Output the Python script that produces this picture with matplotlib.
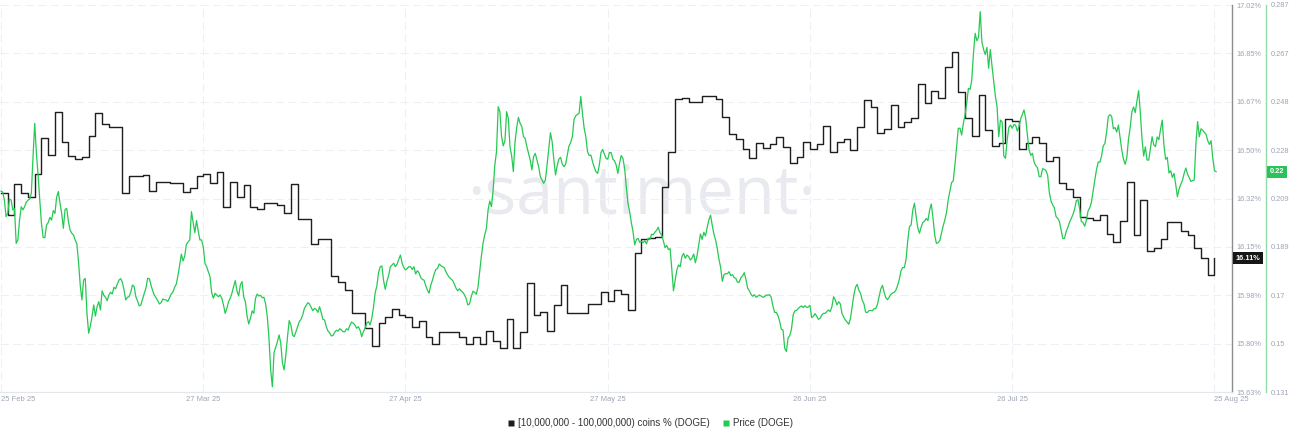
import numpy as np
import matplotlib
matplotlib.use("Agg")
import matplotlib.pyplot as plt
import matplotlib.transforms as mtransforms
from matplotlib.lines import Line2D

# ---------------- data ----------------
start_date = "2025-02-25"          # day 0
xtick_days = [0, 30, 60, 90, 120, 150, 180]
xtick_labels = ["25 Feb 25", "27 Mar 25", "27 Apr 25", "27 May 25",
                "26 Jun 25", "26 Jul 25", "25 Aug 25"]

holder_tick_labels = ["15.63%", "15.80%", "15.98%", "16.15%", "16.32%",
                      "16.50%", "16.67%", "16.85%", "17.02%"]
holder_range = [15.63, 17.02]
price_tick_labels = ["0.131", "0.15", "0.17", "0.189", "0.209",
                     "0.228", "0.248", "0.267", "0.287"]
price_range = [0.131, 0.287]

# daily share of supply held by [10M - 100M) DOGE wallets, %
holders_pct = [
    16.345, 16.266, 16.377, 16.345, 16.330, 16.413, 16.542, 16.481, 16.636, 16.528,
    16.478, 16.467, 16.474, 16.550, 16.632, 16.593, 16.582, 16.582, 16.345, 16.406,
    16.406, 16.409, 16.352, 16.384, 16.384, 16.381, 16.381, 16.348, 16.363, 16.406,
    16.413, 16.381, 16.420, 16.295, 16.384, 16.330, 16.374, 16.295, 16.287, 16.309,
    16.309, 16.302, 16.273, 16.377, 16.251, 16.251, 16.162, 16.180, 16.180, 16.047,
    16.025, 15.996, 15.914, 15.914, 15.860, 15.795, 15.878, 15.899, 15.928, 15.907,
    15.899, 15.864, 15.885, 15.828, 15.802, 15.846, 15.846, 15.846, 15.828, 15.802,
    15.828, 15.802, 15.849, 15.813, 15.788, 15.892, 15.788, 15.846, 16.022, 15.907,
    15.917, 15.849, 15.943, 16.014, 15.914, 15.914, 15.914, 15.946, 15.946, 15.989,
    15.957, 15.996, 15.982, 15.925, 16.129, 16.180, 16.183, 16.187, 16.366, 16.492,
    16.682, 16.686, 16.672, 16.672, 16.693, 16.693, 16.682, 16.618, 16.557, 16.539,
    16.503, 16.471, 16.524, 16.506, 16.521, 16.546, 16.510, 16.453, 16.474, 16.528,
    16.503, 16.521, 16.585, 16.492, 16.528, 16.539, 16.499, 16.582, 16.679, 16.654,
    16.560, 16.575, 16.661, 16.582, 16.600, 16.614, 16.736, 16.668, 16.711, 16.686,
    16.797, 16.851, 16.708, 16.614, 16.550, 16.697, 16.571, 16.514, 16.524, 16.611,
    16.603, 16.503, 16.524, 16.546, 16.524, 16.460, 16.474, 16.381, 16.359, 16.330,
    16.259, 16.255, 16.248, 16.266, 16.198, 16.169, 16.244, 16.384, 16.194, 16.320,
    16.137, 16.147, 16.180, 16.241, 16.241, 16.208, 16.194, 16.147, 16.111, 16.050,
    16.111,
]

# DOGE price, USD, every 6 hours
price = [
    0.2120, 0.2116, 0.2084, 0.2017, 0.2030, 0.2088, 0.2084, 0.2044, 0.2050, 0.1909,
    0.1923, 0.2003, 0.2057, 0.2044, 0.2057, 0.2075, 0.2083, 0.2088, 0.2111, 0.2259,
    0.2393, 0.2272, 0.2185, 0.2084, 0.1990, 0.1933, 0.1932, 0.1983, 0.1993, 0.2014,
    0.2003, 0.2041, 0.2030, 0.2095, 0.2118, 0.2071, 0.2030, 0.1970, 0.2046, 0.2050,
    0.1997, 0.1963, 0.1950, 0.1943, 0.1923, 0.1907, 0.1835, 0.1741, 0.1681, 0.1761,
    0.1768, 0.1627, 0.1547, 0.1576, 0.1614, 0.1661, 0.1616, 0.1654, 0.1674, 0.1641,
    0.1718, 0.1700, 0.1692, 0.1678, 0.1701, 0.1712, 0.1705, 0.1732, 0.1726, 0.1745,
    0.1761, 0.1767, 0.1752, 0.1721, 0.1681, 0.1692, 0.1694, 0.1713, 0.1741, 0.1735,
    0.1694, 0.1677, 0.1657, 0.1661, 0.1685, 0.1708, 0.1729, 0.1768, 0.1767, 0.1741,
    0.1718, 0.1700, 0.1690, 0.1678, 0.1665, 0.1670, 0.1685, 0.1682, 0.1681, 0.1675,
    0.1690, 0.1705, 0.1713, 0.1732, 0.1745, 0.1780, 0.1821, 0.1866, 0.1838, 0.1858,
    0.1905, 0.1915, 0.1923, 0.2037, 0.1993, 0.1952, 0.2001, 0.1960, 0.1923,
    0.1923, 0.1896, 0.1829, 0.1815, 0.1795, 0.1775, 0.1710, 0.1688, 0.1708, 0.1701,
    0.1694, 0.1701, 0.1688, 0.1661, 0.1627, 0.1647, 0.1674, 0.1688, 0.1708, 0.1735,
    0.1759, 0.1718, 0.1697, 0.1741, 0.1755, 0.1694, 0.1674, 0.1616, 0.1584, 0.1607,
    0.1637, 0.1627, 0.1688, 0.1705, 0.1697, 0.1700, 0.1690, 0.1692, 0.1665, 0.1614,
    0.1526, 0.1399, 0.1331, 0.1469, 0.1490, 0.1513, 0.1540, 0.1506, 0.1426, 0.1399,
    0.1459, 0.1533, 0.1598, 0.1580, 0.1540, 0.1533, 0.1553, 0.1573, 0.1594, 0.1603,
    0.1620, 0.1647, 0.1658, 0.1670, 0.1665, 0.1651, 0.1638, 0.1647, 0.1643, 0.1631,
    0.1654, 0.1630, 0.1603, 0.1600, 0.1573, 0.1556, 0.1548, 0.1536, 0.1538, 0.1551,
    0.1559, 0.1555, 0.1565, 0.1560, 0.1553, 0.1553, 0.1565, 0.1560, 0.1579, 0.1592,
    0.1587, 0.1580, 0.1567, 0.1573, 0.1560, 0.1533, 0.1553, 0.1567, 0.1587, 0.1594,
    0.1580, 0.1607, 0.1651, 0.1710, 0.1737, 0.1791, 0.1815, 0.1818, 0.1759, 0.1724,
    0.1757, 0.1779, 0.1815, 0.1822, 0.1829, 0.1815, 0.1825, 0.1845, 0.1862, 0.1829,
    0.1812, 0.1802, 0.1808, 0.1815,
    0.1815, 0.1804, 0.1815, 0.1786, 0.1799, 0.1791, 0.1772, 0.1764, 0.1761, 0.1739,
    0.1721, 0.1708, 0.1741, 0.1761, 0.1786, 0.1804, 0.1808, 0.1826, 0.1819, 0.1815,
    0.1811, 0.1795, 0.1782, 0.1772, 0.1766, 0.1759, 0.1745, 0.1728, 0.1718, 0.1726,
    0.1718, 0.1712, 0.1702, 0.1686, 0.1661, 0.1665, 0.1694, 0.1716, 0.1712, 0.1704,
    0.1732, 0.1795, 0.1856, 0.1909, 0.1943, 0.1970, 0.2044, 0.2080, 0.2057, 0.2124,
    0.2225, 0.2279, 0.2460, 0.2440, 0.2339, 0.2302, 0.2323, 0.2440, 0.2413, 0.2299,
    0.2261, 0.2198, 0.2319, 0.2377, 0.2417, 0.2393, 0.2380, 0.2339, 0.2332, 0.2299,
    0.2272, 0.2245, 0.2205, 0.2259, 0.2272, 0.2245, 0.2218, 0.2178, 0.2165, 0.2151,
    0.2165, 0.2225, 0.2292, 0.2355, 0.2319, 0.2248, 0.2185, 0.2222, 0.2248, 0.2256,
    0.2229, 0.2218, 0.2228, 0.2265, 0.2302, 0.2315, 0.2339, 0.2409, 0.2423, 0.2429,
    0.2433, 0.2501, 0.2433, 0.2373, 0.2339, 0.2279, 0.2263, 0.2265, 0.2238, 0.2216,
    0.2198, 0.2191, 0.2225, 0.2275, 0.2288, 0.2269, 0.2252, 0.2248, 0.2275,
    0.2275, 0.2249, 0.2242, 0.2225, 0.2191, 0.2232, 0.2263, 0.2252, 0.2212, 0.2138,
    0.2071, 0.2037, 0.1993, 0.1956, 0.1903, 0.1925, 0.1929, 0.1913, 0.1917, 0.1912,
    0.1920, 0.1907, 0.1929, 0.1925, 0.1946, 0.1944, 0.1954, 0.1962, 0.1974, 0.1952,
    0.1943, 0.1919, 0.1892, 0.1901, 0.1884, 0.1888, 0.1806, 0.1718, 0.1760, 0.1802,
    0.1822, 0.1815, 0.1856, 0.1869, 0.1849, 0.1862, 0.1856, 0.1842, 0.1850, 0.1866,
    0.1831, 0.1860, 0.1903, 0.1947, 0.1925, 0.1954, 0.1939, 0.1974, 0.2003, 0.2023,
    0.1982, 0.1946, 0.1923, 0.1888, 0.1845, 0.1812, 0.1756, 0.1784, 0.1787, 0.1787,
    0.1795, 0.1779, 0.1783, 0.1771, 0.1768, 0.1752, 0.1753, 0.1771, 0.1778, 0.1791,
    0.1764, 0.1729, 0.1718, 0.1704, 0.1696, 0.1702, 0.1692, 0.1696, 0.1701, 0.1697,
    0.1692, 0.1694, 0.1701, 0.1700, 0.1702, 0.1692, 0.1657, 0.1631, 0.1631, 0.1618,
    0.1595, 0.1563, 0.1560, 0.1486, 0.1473, 0.1528, 0.1537, 0.1563, 0.1620, 0.1637,
    0.1639, 0.1646, 0.1653, 0.1657, 0.1650, 0.1658, 0.1651, 0.1653, 0.1659,
    0.1610, 0.1615, 0.1626, 0.1615, 0.1603, 0.1607, 0.1620, 0.1627, 0.1627, 0.1634,
    0.1641, 0.1634, 0.1654, 0.1694, 0.1681, 0.1661, 0.1674, 0.1665, 0.1626, 0.1612,
    0.1600, 0.1592, 0.1583, 0.1606, 0.1654, 0.1700, 0.1732, 0.1744, 0.1720, 0.1708,
    0.1680, 0.1666, 0.1632, 0.1630, 0.1638, 0.1639, 0.1637, 0.1646, 0.1646, 0.1663,
    0.1694, 0.1725, 0.1740, 0.1712, 0.1690, 0.1682, 0.1692, 0.1704, 0.1709, 0.1712,
    0.1721, 0.1740, 0.1764, 0.1799, 0.1812, 0.1811, 0.1845, 0.1920, 0.1976, 0.1983,
    0.2044, 0.2071, 0.2017, 0.1970, 0.1950, 0.1976, 0.1994, 0.1999, 0.2010, 0.2001,
    0.2044, 0.2068, 0.2010, 0.1943, 0.1909, 0.1912, 0.1920, 0.1950, 0.1979, 0.2003,
    0.2033, 0.2084, 0.2118, 0.2154, 0.2161, 0.2225, 0.2299, 0.2373, 0.2373, 0.2346,
    0.2393, 0.2427, 0.2474, 0.2534, 0.2530, 0.2568, 0.2675, 0.2756, 0.2726, 0.2740,
    0.2843, 0.2722, 0.2691, 0.2670, 0.2699, 0.2615, 0.2691, 0.2624, 0.2562, 0.2502,
    0.2460, 0.2339, 0.2406, 0.2400, 0.2261, 0.2252, 0.2326, 0.2377, 0.2386,
    0.2373, 0.2388, 0.2386, 0.2362, 0.2380, 0.2411, 0.2429, 0.2447, 0.2412, 0.2346,
    0.2285, 0.2264, 0.2272, 0.2236, 0.2222, 0.2214, 0.2178, 0.2178, 0.2210, 0.2208,
    0.2202, 0.2185, 0.2115, 0.2080, 0.2064, 0.2053, 0.2017, 0.2010, 0.1997, 0.1963,
    0.1929, 0.1929, 0.1956, 0.1974, 0.1994, 0.2010, 0.2025, 0.2046, 0.2081, 0.2085,
    0.2049, 0.1998, 0.1993, 0.1978, 0.2003, 0.2040, 0.2053, 0.2075, 0.2120, 0.2165,
    0.2206, 0.2237, 0.2236, 0.2261, 0.2302, 0.2312, 0.2358, 0.2420, 0.2428, 0.2421,
    0.2371, 0.2376, 0.2358, 0.2386, 0.2337, 0.2285, 0.2249, 0.2228, 0.2255, 0.2330,
    0.2376, 0.2440, 0.2459, 0.2436, 0.2484, 0.2525, 0.2437, 0.2330, 0.2261, 0.2298,
    0.2245, 0.2245, 0.2292, 0.2339, 0.2306, 0.2299, 0.2338, 0.2327, 0.2369, 0.2406,
    0.2306, 0.2248, 0.2256, 0.2193, 0.2202, 0.2175, 0.2191, 0.2147, 0.2097, 0.2128,
    0.2147, 0.2163, 0.2191, 0.2213, 0.2189, 0.2174, 0.2159, 0.2162, 0.2165, 0.2312,
    0.2400, 0.2339, 0.2371, 0.2365, 0.2357, 0.2349, 0.2323, 0.2308, 0.2323, 0.2252,
    0.2202, 0.2198,
]

legend_labels = ["[10,000,000 - 100,000,000) coins % (DOGE)", "Price (DOGE)"]
watermark = "·santiment·"

# ---------------- style ----------------
BLACK = "#1e1e1e"
GREEN = "#26c953"
TICK_C = "#9da4b4"
GRID_C = "#edf0f4"

plt.rcParams["font.family"] = ["Liberation Sans", "DejaVu Sans"]
plt.rcParams["lines.scale_dashes"] = False

holder_days = np.arange(len(holders_pct))
price_days = np.arange(len(price)) * 0.25

fig = plt.figure(figsize=(13, 4.4), dpi=100)
W, H = 1300, 440
ax = fig.add_axes([0, 1 - 392 / H, 1232 / W, 387 / H])
ax2 = ax.twinx()

# watermark
ax.text(0.521, 0.46, watermark, transform=ax.transAxes, ha="center", va="baseline",
        fontsize=48, color="#e8eaf0", family=["Open Sans", "DejaVu Sans"],
        fontweight="normal", zorder=0.5)

# lines
ax.step(holder_days, holders_pct, where="post", color=BLACK, lw=1.0, zorder=3)
ax2.plot(price_days, price, color=GREEN, lw=0.9, zorder=3)

# limits
ax.set_xlim(-0.15, 182.6)
ax.set_ylim(*holder_range)
ax2.set_ylim(*price_range)

# ticks
ax.set_xticks(xtick_days)
xt = ax.set_xticklabels(xtick_labels)
xt[0].set_ha("left")
xt[-1].set_ha("left")
ax.tick_params(axis="x", length=0, pad=3, labelsize=5.5, labelcolor=TICK_C)

ax.yaxis.tick_right()
ax.set_yticks(np.linspace(holder_range[0], holder_range[1], len(holder_tick_labels)))
ax.set_yticklabels(holder_tick_labels)
ax.tick_params(axis="y", length=0, pad=3.5, labelsize=5.3, labelcolor=TICK_C)

ax2.set_yticks(np.linspace(price_range[0], price_range[1], len(price_tick_labels)))
ax2.set_yticklabels(price_tick_labels)
ax2.tick_params(axis="y", length=0, pad=3.5, labelsize=5.3, labelcolor=TICK_C)

# grid
ax.grid(True, color=GRID_C, lw=0.8, linestyle=(0, (6, 3)), zorder=0)
ax.set_axisbelow(True)

# spines
for s in ["top", "left"]:
    ax.spines[s].set_visible(False)
ax.spines["right"].set_color("#8c8c8c")
ax.spines["right"].set_linewidth(1.0)
ax.spines["bottom"].set_color("#e3e6eb")
ax.spines["bottom"].set_linewidth(0.8)
for s in ["top", "left", "bottom"]:
    ax2.spines[s].set_visible(False)
ax2.spines["right"].set_position(("axes", 1266 / 1232))
ax2.spines["right"].set_color("#93dca8")
ax2.spines["right"].set_linewidth(1.0)

# current value badges
tr1 = mtransforms.blended_transform_factory(ax.transAxes, ax.transData)
ax.text(1.003, holders_pct[-1], f"{holders_pct[-1]:.2f}%", transform=tr1,
        ha="left", va="center", fontsize=5.3, color="white", fontweight="bold",
        bbox=dict(boxstyle="square,pad=0.35", fc="#161616", ec="none"),
        clip_on=False, zorder=10)
tr2 = mtransforms.blended_transform_factory(ax2.transAxes, ax2.transData)
ax2.text(1.0305, price[-1], f"{price[-1]:.2f}", transform=tr2,
         ha="left", va="center", fontsize=5.3, color="white", fontweight="bold",
         bbox=dict(boxstyle="square,pad=0.35", fc="#2cc25a", ec="none"),
         clip_on=False, zorder=10)

# legend
handles = [Line2D([], [], marker="s", linestyle="none", markersize=5,
                  markerfacecolor=BLACK, markeredgecolor="none"),
           Line2D([], [], marker="s", linestyle="none", markersize=5,
                  markerfacecolor=GREEN, markeredgecolor="none")]
fig.legend(handles, legend_labels, loc="center", bbox_to_anchor=(0.5, 1 - 423 / H),
           ncol=2, frameon=False, fontsize=7, handlelength=0.7, handletextpad=0.4,
           columnspacing=1.3, labelcolor="#333333")

fig.savefig("out.png", dpi=100)
